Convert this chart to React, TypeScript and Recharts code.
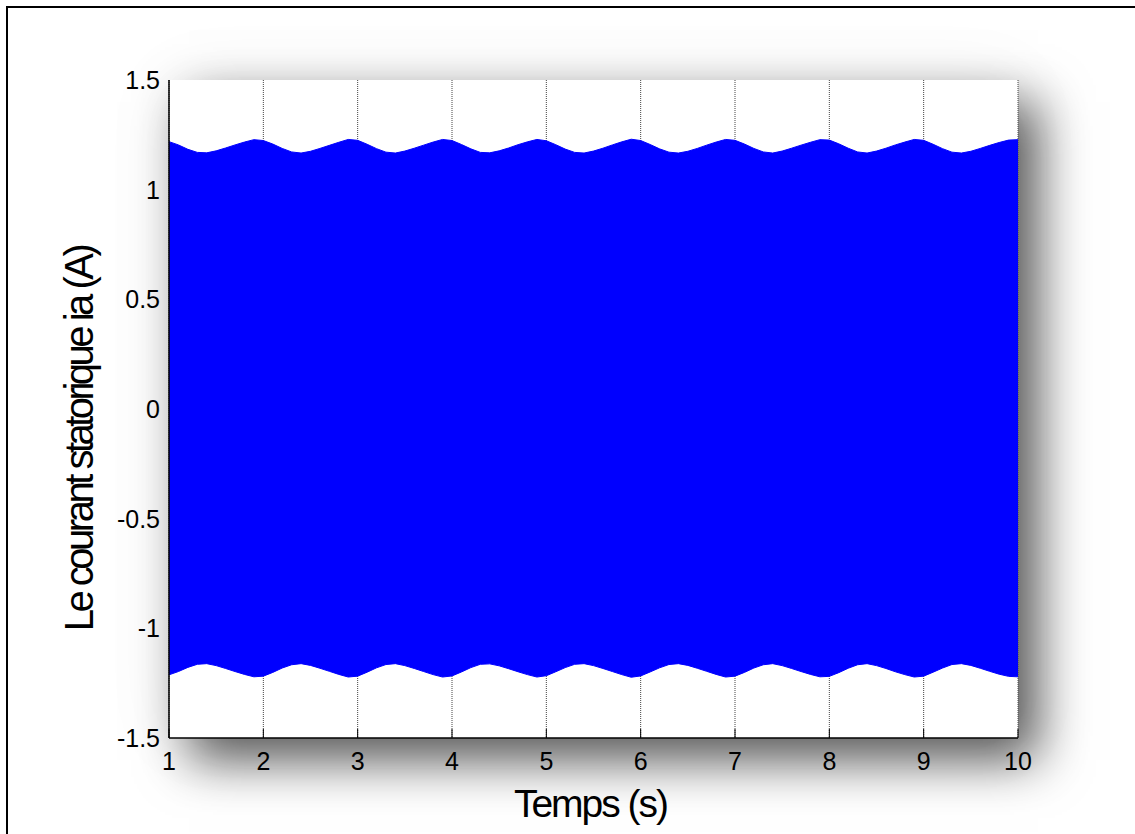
import { ComposedChart, Area, XAxis, YAxis, CartesianGrid } from "recharts";

// sample instants (s) along the record
const times = [
  1.0, 1.1, 1.2, 1.3, 1.4, 1.5, 1.6, 1.7, 1.8, 1.9,
  2.0, 2.1, 2.2, 2.3, 2.4, 2.5, 2.6, 2.7, 2.8, 2.9,
  3.0, 3.1, 3.2, 3.3, 3.4, 3.5, 3.6, 3.7, 3.8, 3.9,
  4.0, 4.1, 4.2, 4.3, 4.4, 4.5, 4.6, 4.7, 4.8, 4.9,
  5.0, 5.1, 5.2, 5.3, 5.4, 5.5, 5.6, 5.7, 5.8, 5.9,
  6.0, 6.1, 6.2, 6.3, 6.4, 6.5, 6.6, 6.7, 6.8, 6.9,
  7.0, 7.1, 7.2, 7.3, 7.4, 7.5, 7.6, 7.7, 7.8, 7.9,
  8.0, 8.1, 8.2, 8.3, 8.4, 8.5, 8.6, 8.7, 8.8, 8.9,
  9.0, 9.1, 9.2, 9.3, 9.4, 9.5, 9.6, 9.7, 9.8, 9.9,
  10.0,
];

// positive crests of ia (A)
const upper = [
  1.219, 1.204, 1.184, 1.170, 1.168, 1.177, 1.190, 1.204, 1.217, 1.228,
  1.224, 1.208, 1.188, 1.172, 1.167, 1.175, 1.188, 1.202, 1.216, 1.229,
  1.225, 1.207, 1.187, 1.171, 1.167, 1.176, 1.189, 1.203, 1.217, 1.229,
  1.224, 1.206, 1.186, 1.170, 1.168, 1.177, 1.190, 1.205, 1.218, 1.229,
  1.223, 1.205, 1.185, 1.170, 1.167, 1.176, 1.189, 1.204, 1.218, 1.230,
  1.224, 1.206, 1.186, 1.171, 1.167, 1.175, 1.188, 1.203, 1.217, 1.229,
  1.225, 1.208, 1.188, 1.172, 1.167, 1.176, 1.189, 1.203, 1.216, 1.228,
  1.226, 1.209, 1.189, 1.172, 1.167, 1.176, 1.189, 1.204, 1.217, 1.229,
  1.225, 1.207, 1.187, 1.171, 1.167, 1.175, 1.188, 1.202, 1.215, 1.226,
  1.228,
];

// negative crests of ia (A)
const lower = [
  -1.212, -1.197, -1.178, -1.164, -1.161, -1.170, -1.183, -1.197, -1.210, -1.221,
  -1.218, -1.201, -1.181, -1.166, -1.161, -1.169, -1.182, -1.196, -1.210, -1.222,
  -1.218, -1.200, -1.180, -1.165, -1.161, -1.170, -1.183, -1.197, -1.211, -1.222,
  -1.217, -1.199, -1.179, -1.164, -1.162, -1.171, -1.184, -1.198, -1.211, -1.222,
  -1.216, -1.198, -1.179, -1.164, -1.161, -1.170, -1.183, -1.197, -1.211, -1.223,
  -1.217, -1.199, -1.180, -1.165, -1.161, -1.169, -1.182, -1.196, -1.210, -1.222,
  -1.218, -1.201, -1.181, -1.166, -1.161, -1.170, -1.183, -1.197, -1.210, -1.221,
  -1.219, -1.202, -1.182, -1.166, -1.161, -1.170, -1.183, -1.198, -1.211, -1.222,
  -1.218, -1.200, -1.181, -1.165, -1.161, -1.169, -1.182, -1.196, -1.209, -1.219,
  -1.221,
];

const xTicks = [1, 2, 3, 4, 5, 6, 7, 8, 9, 10];
const yTicks = [-1.5, -1, -0.5, 0, 0.5, 1, 1.5];

const data = times.map((t, i) => ({ t, ia: [lower[i], upper[i]] }));

const FONT = '"Liberation Sans", Arial, Helvetica, sans-serif';
const tickStyle = { fill: "#000", fontSize: 25, fontFamily: FONT };
const axisLine = { stroke: "#000", strokeWidth: 1.5 };

export default function App() {
  return (
    <div
      style={{
        position: "absolute",
        left: 0,
        top: 0,
        width: 1135,
        height: 834,
        background: "#fff",
        overflow: "hidden",
      }}
    >
      <div
        style={{
          position: "absolute",
          left: 6,
          top: 6,
          right: -10,
          bottom: -10,
          borderTop: "2px solid #000",
          borderLeft: "2px solid #000",
        }}
      />
      {/* soft drop shadow behind the axes box */}
      <div
        style={{
          position: "absolute",
          left: 169,
          top: 80,
          width: 849,
          height: 658,
          boxShadow: "20px 22px 48px rgba(0,0,0,0.66), 0 0 70px rgba(0,0,0,0.06)",
        }}
      />
      <div style={{ position: "absolute", left: 0, top: 0 }}>
        <ComposedChart
          width={1135}
          height={834}
          data={data}
          margin={{ top: 80, right: 117, bottom: 0, left: 0 }}
        >
          <CartesianGrid
            horizontal={false}
            stroke="#444"
            strokeDasharray="1 1"
            fill="#fff"
            fillOpacity={1}
          />
          <XAxis
            dataKey="t"
            type="number"
            domain={[1, 10]}
            ticks={xTicks}
            allowDataOverflow
            height={96}
            axisLine={axisLine}
            tickLine={{ stroke: "#000" }}
            tickSize={-9}
            tickMargin={23}
            tick={tickStyle}
            label={{
              content: ({ viewBox }: any) => (
                <text
                  x={viewBox.x + viewBox.width / 2 - 3}
                  y={viewBox.y + 79}
                  textAnchor="middle"
                  fill="#000"
                  style={{ fontFamily: FONT, fontSize: 39, letterSpacing: -2 }}
                >
                  Temps (s)
                </text>
              ),
            }}
          />
          <XAxis
            xAxisId="top"
            orientation="top"
            dataKey="t"
            type="number"
            domain={[1, 10]}
            ticks={xTicks}
            allowDataOverflow
            height={0}
            axisLine={axisLine}
            tickLine={{ stroke: "#000" }}
            tickSize={-9}
            tick={false}
          />
          <YAxis
            type="number"
            domain={[-1.5, 1.5]}
            ticks={yTicks}
            allowDataOverflow
            width={169}
            axisLine={axisLine}
            tickLine={false}
            tickSize={0}
            tickMargin={9}
            tick={tickStyle}
            label={{
              content: ({ viewBox }: any) => {
                const cx = 93;
                const cy = viewBox.y + viewBox.height / 2 + 30;
                return (
                  <text
                    x={cx}
                    y={cy}
                    transform={`rotate(-90 ${cx} ${cy})`}
                    textAnchor="middle"
                    fill="#000"
                    style={{ fontFamily: FONT, fontSize: 40, letterSpacing: -3.5 }}
                  >
                    Le courant statorique ia (A)
                  </text>
                );
              },
            }}
          />
          <YAxis
            yAxisId="right"
            orientation="right"
            type="number"
            domain={[-1.5, 1.5]}
            ticks={yTicks}
            allowDataOverflow
            width={0}
            axisLine={axisLine}
            tickLine={false}
            tick={false}
          />
          <Area
            dataKey="ia"
            type="linear"
            stroke="#0000ff"
            strokeWidth={1}
            fill="#0000ff"
            fillOpacity={1}
            dot={false}
            activeDot={false}
            isAnimationActive={false}
          />
        </ComposedChart>
      </div>
    </div>
  );
}
